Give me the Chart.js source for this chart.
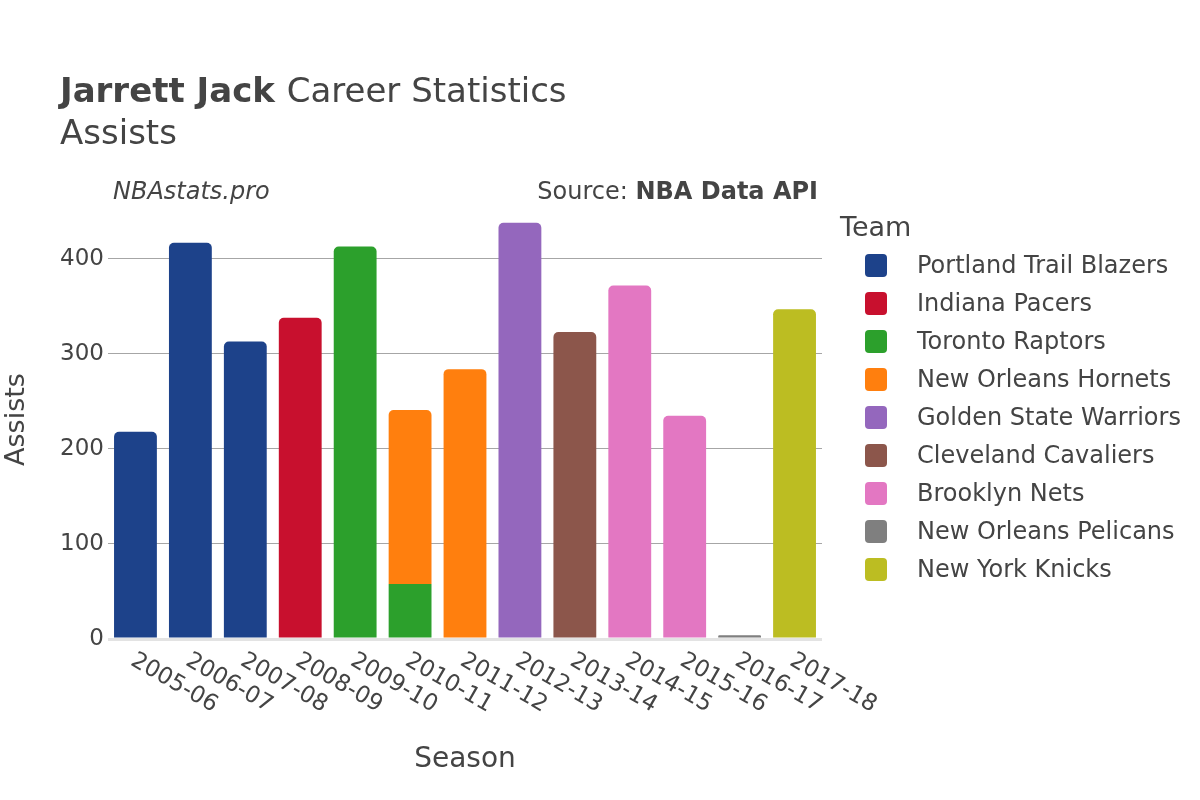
<!DOCTYPE html>
<html lang="en">
<head>
    <meta charset="UTF-8">
    <title>Jarrett Jack Career Statistics - Assists</title>
    <style>
        html, body { margin: 0; padding: 0; background: #fff; }
        #wrap { width: 1200px; height: 800px; position: relative; }
    </style>
</head>
<body>
    <div id="wrap">
        <canvas id="assistsChart" width="1200" height="800"></canvas>
    </div>

    <script src="https://cdn.jsdelivr.net/npm/chart.js"></script>
    <script>
        // Seasons (x categories)
        const seasons = ['2005-06', '2006-07', '2007-08', '2008-09', '2009-10', '2010-11', '2011-12',
                         '2012-13', '2013-14', '2014-15', '2015-16', '2016-17', '2017-18'];

        const teams = ['Portland Trail Blazers', 'Indiana Pacers', 'Toronto Raptors', 'New Orleans Hornets',
                       'Golden State Warriors', 'Cleveland Cavaliers', 'Brooklyn Nets',
                       'New Orleans Pelicans', 'New York Knicks'];

        const teamColors = ['#1d428a', '#c8102e', '#2ca02c', '#ff7f0e', '#9467bd',
                            '#8c564b', '#e377c2', '#7f7f7f', '#bcbd22'];

        // Assists per season, one array per team (null = not with that team)
        const portland  = [218, 417, 313, null, null, null, null, null, null, null, null, null, null];
        const indiana   = [null, null, null, 338, null, null, null, null, null, null, null, null, null];
        const toronto   = [null, null, null, null, 413, 58, null, null, null, null, null, null, null];
        const hornets   = [null, null, null, null, null, 183, 284, null, null, null, null, null, null];
        const warriors  = [null, null, null, null, null, null, null, 438, null, null, null, null, null];
        const cavaliers = [null, null, null, null, null, null, null, null, 323, null, null, null, null];
        const nets      = [null, null, null, null, null, null, null, null, null, 372, 235, null, null];
        const pelicans  = [null, null, null, null, null, null, null, null, null, null, null, 4, null];
        const knicks    = [null, null, null, null, null, null, null, null, null, null, null, null, 347];

        const teamValues = [portland, indiana, toronto, hornets, warriors, cavaliers, nets, pelicans, knicks];

        const yTicks = [0, 100, 200, 300, 400];

        const FONT = 'DejaVu Sans';
        const TEXT = '#444';
        Chart.defaults.font.family = FONT;
        Chart.defaults.color = TEXT;

        // titles, rotated season labels and the legend
        const decorations = {
            id: 'decorations',
            afterDraw(chart) {
                const ctx = chart.ctx;
                ctx.save();
                ctx.fillStyle = TEXT;
                ctx.textBaseline = 'alphabetic';
                ctx.textAlign = 'left';

                // main title
                ctx.font = 'bold 34px ' + FONT;
                ctx.fillText('Jarrett Jack', 60, 102);
                const w = ctx.measureText('Jarrett Jack ').width;
                ctx.font = '34px ' + FONT;
                ctx.fillText('Career Statistics', 60 + w, 102);
                ctx.fillText('Assists', 60, 144);

                // watermark & source
                ctx.font = 'italic 24px ' + FONT;
                ctx.fillText('NBAstats.pro', 113, 199);
                ctx.font = 'bold 24px ' + FONT;
                const bw = ctx.measureText('NBA Data API').width;
                ctx.textAlign = 'right';
                ctx.fillText('NBA Data API', 818, 199);
                ctx.font = '24px ' + FONT;
                ctx.fillText('Source: ', 818 - bw, 199);

                // season labels, rotated clockwise
                const xs = chart.scales.x;
                ctx.font = '23px ' + FONT;
                ctx.textAlign = 'left';
                ctx.textBaseline = 'middle';
                seasons.forEach((s, i) => {
                    const x = xs.getPixelForTick(i);
                    ctx.save();
                    ctx.translate(x - 3, 659);
                    ctx.rotate(Math.PI / 6);
                    ctx.fillText(s, 0, 0);
                    ctx.restore();
                });

                // legend
                ctx.textBaseline = 'alphabetic';
                ctx.font = '27px ' + FONT;
                ctx.fillText('Team', 840, 236);
                ctx.font = '24px ' + FONT;
                ctx.textBaseline = 'middle';
                chart.data.datasets.forEach((ds, i) => {
                    const cy = 265.5 + i * 38;
                    ctx.fillStyle = ds.backgroundColor;
                    ctx.beginPath();
                    ctx.roundRect(865, cy - 11.5, 22, 23, 4);
                    ctx.fill();
                    ctx.fillStyle = TEXT;
                    ctx.fillText(ds.label, 917, cy + 1);
                });
                ctx.restore();
            }
        };

        const assistsChart = new Chart(
            document.getElementById('assistsChart'),
            {
                type: 'bar',
                data: {
                    labels: seasons,
                    datasets: teams.map((t, i) => ({
                        label: t,
                        data: teamValues[i],
                        backgroundColor: teamColors[i],
                        borderWidth: 0,
                        borderRadius: 5,
                        barPercentage: 0.78,
                        categoryPercentage: 1.0
                    }))
                },
                options: {
                    responsive: false,
                    animation: false,
                    layout: { padding: { top: 200, right: 378, left: 0, bottom: 0 } },
                    plugins: {
                        legend: { display: false },
                        tooltip: { enabled: false }
                    },
                    scales: {
                        x: {
                            stacked: true,
                            grid: { display: false },
                            border: { display: false },
                            ticks: { display: false },
                            title: {
                                display: true,
                                text: 'Season',
                                font: { size: 28 },
                                color: TEXT,
                                padding: { top: 0, bottom: 23 }
                            },
                            afterFit: (scale) => { scale.height = 161; }
                        },
                        y: {
                            stacked: true,
                            min: 0,
                            max: 462,
                            afterBuildTicks: (scale) => { scale.ticks = yTicks.map(v => ({ value: v })); },
                            ticks: {
                                font: { size: 23 },
                                color: TEXT,
                                padding: 4
                            },
                            grid: {
                                drawTicks: false,
                                color: (c) => c.tick && c.tick.value === 0 ? '#e3e3e3' : '#a6a6a6',
                                lineWidth: (c) => c.tick && c.tick.value === 0 ? 3 : 1
                            },
                            border: { display: false },
                            title: {
                                display: true,
                                text: 'Assists',
                                font: { size: 27 },
                                color: TEXT,
                                padding: { top: 1, bottom: 0 }
                            },
                            afterFit: (scale) => { scale.width = 108; }
                        }
                    }
                },
                plugins: [decorations]
            }
        );
    </script>
</body>
</html>
